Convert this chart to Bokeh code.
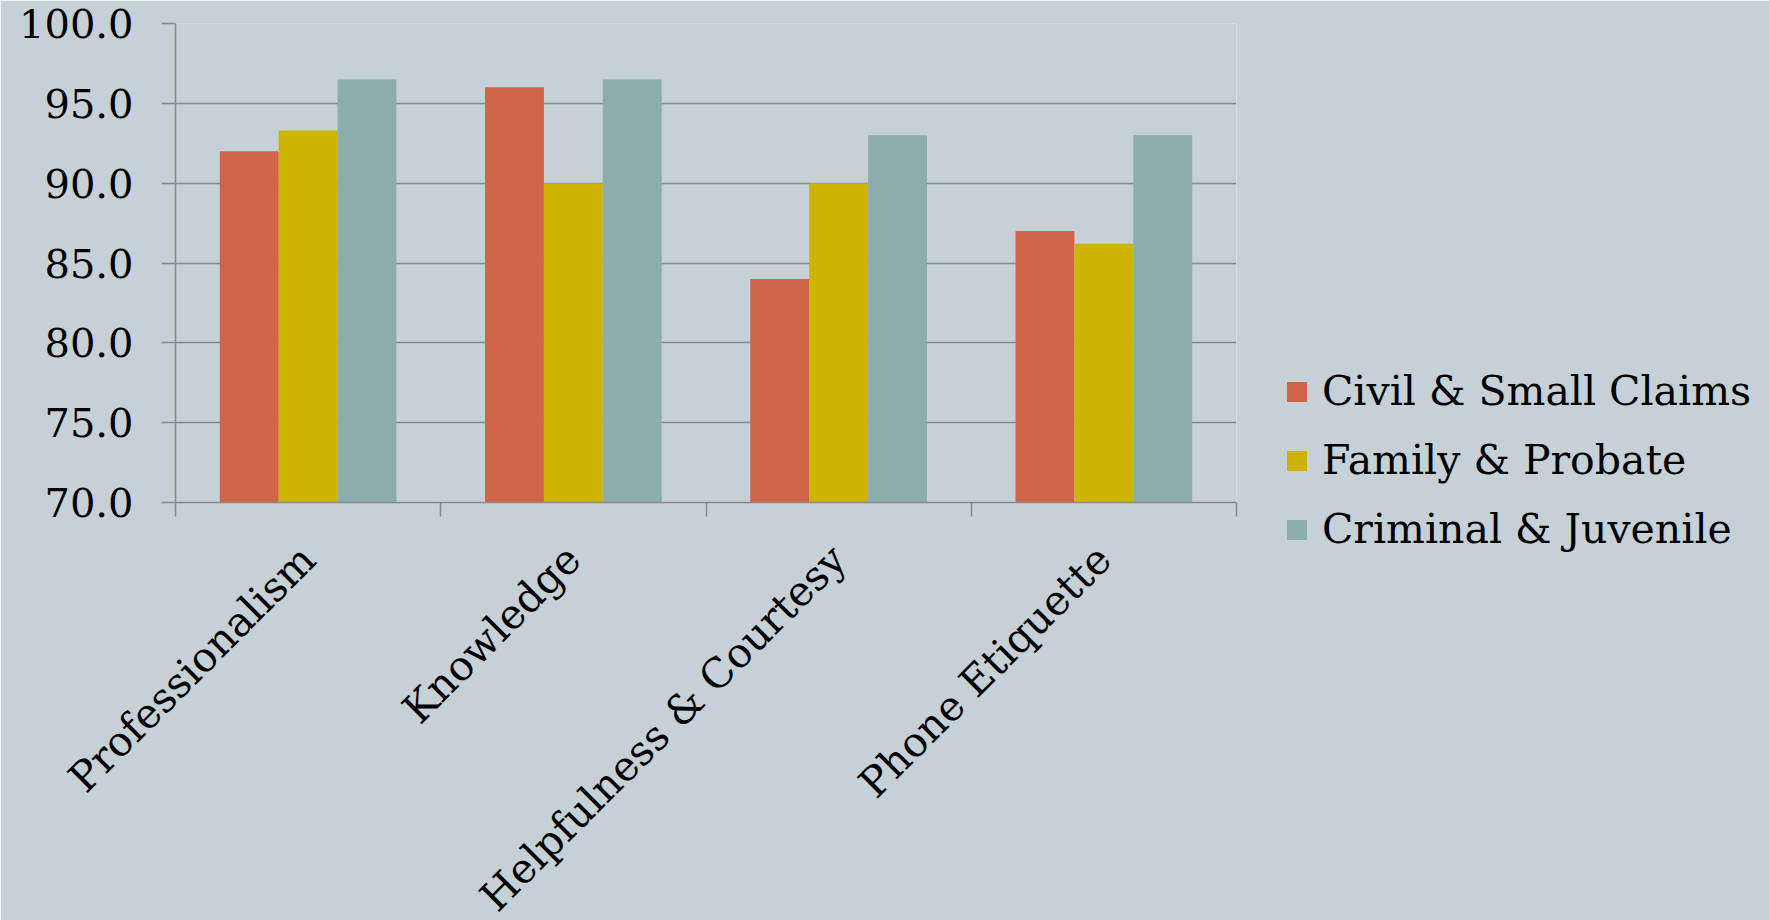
from bokeh.plotting import figure
from bokeh.models import Range1d, FixedTicker, Legend, LegendItem, NumeralTickFormatter, ColumnDataSource
from bokeh.transform import dodge
from bokeh.embed import file_html
from bokeh.resources import INLINE
from math import pi

categories = ["Professionalism", "Knowledge", "Helpfulness & Courtesy", "Phone Etiquette"]
series = ["Civil & Small Claims", "Family & Probate", "Criminal & Juvenile"]
civil = [92.0, 96.0, 84.0, 87.0]
family = [93.3, 90.0, 90.0, 86.2]
criminal = [96.5, 96.5, 93.0, 93.0]
y_ticks = [70, 75, 80, 85, 90, 95, 100]

colors = ["#D16349", "#CCB400", "#8CADAE"]
BG = "#C6D1D7"
GRID = "#898989"
FONT = "DejaVu Serif"

xc = [i + 0.5 for i in range(len(categories))]
src = ColumnDataSource(dict(x=xc, civil=civil, family=family, criminal=criminal))

p = figure(output_backend="svg", toolbar_location=None,
           frame_width=1061, frame_height=479,
           min_border_left=175, min_border_top=23, min_border_right=40, min_border_bottom=418,
           x_range=Range1d(0, len(categories)), y_range=Range1d(y_ticks[0], y_ticks[-1]))
p.background_fill_color = BG
p.border_fill_color = BG
p.outline_line_color = None

bw = 0.222
renderers = []
for key, off, col in zip(["civil", "family", "criminal"], [-bw, 0, bw], colors):
    r = p.vbar(x=dodge("x", off, range=p.x_range), top=key, bottom=y_ticks[0], width=bw,
               source=src, fill_color=col, line_color=None)
    renderers.append(r)

p.xgrid.visible = False
p.ygrid.ticker = FixedTicker(ticks=y_ticks)
p.ygrid.grid_line_color = GRID
p.ygrid.grid_line_width = 1.5

# y axis
ya = p.yaxis[0]
ya.ticker = FixedTicker(ticks=y_ticks)
ya.formatter = NumeralTickFormatter(format="0.0")
ya.axis_line_color = GRID
ya.axis_line_width = 1.5
ya.major_tick_line_color = GRID
ya.major_tick_line_width = 1.5
ya.major_tick_out = 14
ya.major_tick_in = 0
ya.minor_tick_line_color = None
ya.major_label_standoff = 28
ya.major_label_text_font = FONT
ya.major_label_text_font_size = "40px"
ya.major_label_text_color = "black"

# x axis
xa = p.xaxis[0]
xa.ticker = FixedTicker(ticks=xc, minor_ticks=list(range(len(categories) + 1)))
xa.major_label_overrides = {x: c for x, c in zip(xc, categories)}
xa.major_label_orientation = pi / 4
xa.axis_line_color = GRID
xa.axis_line_width = 1.5
xa.major_tick_line_color = None
xa.major_tick_out = 0
xa.major_tick_in = 0
xa.minor_tick_line_color = GRID
xa.minor_tick_line_width = 1.5
xa.minor_tick_out = 14
xa.minor_tick_in = 0
xa.major_label_standoff = 36
xa.major_label_text_font = FONT
xa.major_label_text_font_size = "41px"
xa.major_label_text_color = "black"

items = [LegendItem(label=s, renderers=[r]) for s, r in zip(series, renderers)]
legend = Legend(items=items, location=(48, -52), orientation="vertical",
                glyph_width=25, glyph_height=25, label_height=50, spacing=19,
                label_standoff=13, padding=0, margin=0,
                border_line_color=None, background_fill_alpha=0,
                label_text_font=FONT, label_text_font_size="41px", label_text_color="black")
p.add_layout(legend, "right")

open("out.html", "w").write(file_html(p, INLINE))
